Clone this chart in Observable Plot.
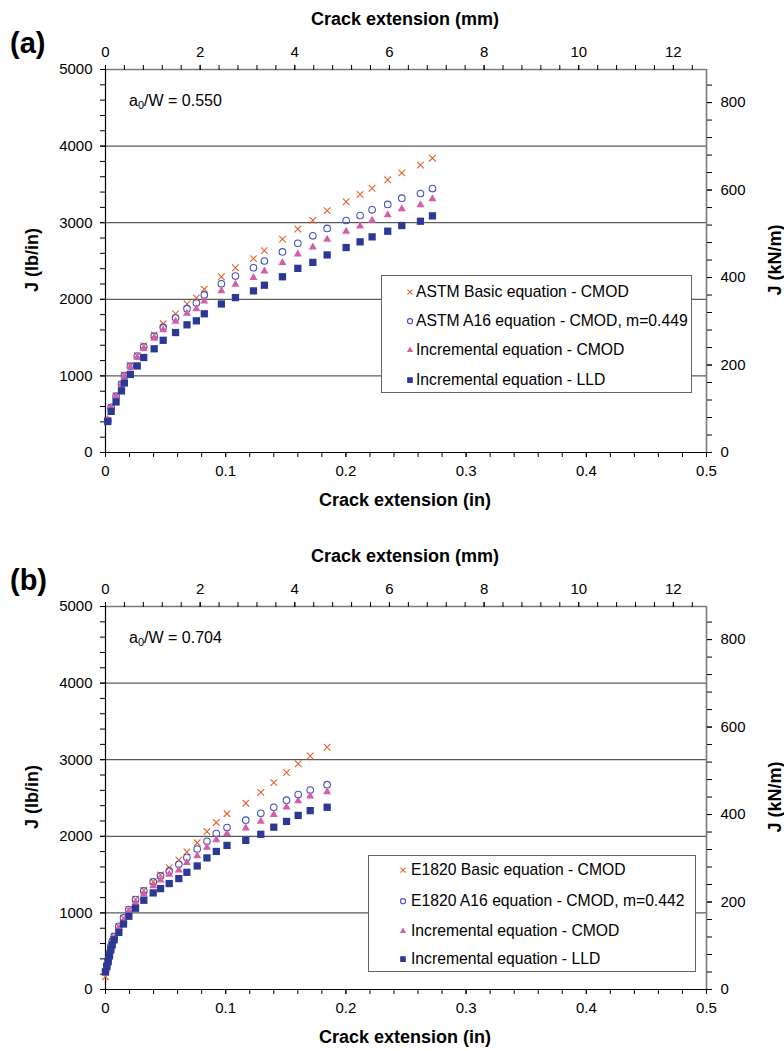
<!DOCTYPE html>
<html><head><meta charset="utf-8">
<script src="https://cdn.jsdelivr.net/npm/d3@7"></script>
<script src="https://cdn.jsdelivr.net/npm/@observablehq/plot@0.6"></script>
<style>
body{margin:0;background:#fff;font-family:"Liberation Sans",Arial,sans-serif;}
#wrap{position:relative;width:784px;height:1051px;overflow:hidden;background:#fff;}
.panel{position:absolute;left:0;width:784px;}
.panel svg{display:block;}
.lab{position:absolute;white-space:nowrap;color:#000;line-height:1;}
.ttl{font-weight:bold;font-size:18px;}
.big{font-weight:bold;font-size:29px;}
.ann{font-size:16px;}
.rot{transform:translate(-50%,-50%) rotate(-90deg);}
.legend{position:absolute;background:#fff;border:1px solid #666;box-sizing:border-box;}
.legrow{position:absolute;left:0;white-space:nowrap;font-size:15.7px;line-height:1;transform:translateY(-50%);}
.legrow svg{position:absolute;top:50%;}
</style></head><body><div id="wrap"></div><script>
// ---------- data ----------
// Panel (a), a0/W = 0.550 : crack extension (in) and J (lb/in)
const xA = [0.0019, 0.0047, 0.0088, 0.0133, 0.0157, 0.0207, 0.0264, 0.0318, 0.0405, 0.048, 0.0583, 0.0678, 0.0756, 0.0822, 0.0964, 0.1081, 0.1231, 0.1322, 0.1472, 0.16, 0.1725, 0.1844, 0.2002, 0.2118, 0.2218, 0.2348, 0.2465, 0.262, 0.272];
const basicA = [420, 590, 740, 895, 1010, 1135, 1265, 1395, 1535, 1680, 1811, 1939, 2018, 2132, 2294, 2412, 2531, 2636, 2785, 2917, 3031, 3158, 3273, 3368, 3450, 3560, 3651, 3751, 3842];
const a16A = [415, 588, 735, 890, 1005, 1127, 1259, 1380, 1518, 1636, 1759, 1877, 1952, 2057, 2202, 2303, 2412, 2500, 2618, 2732, 2829, 2925, 3029, 3094, 3168, 3238, 3320, 3381, 3446];
const incCmodA = [430, 585, 730, 885, 1000, 1118, 1241, 1355, 1490, 1600, 1711, 1816, 1873, 1974, 2110, 2193, 2281, 2368, 2478, 2588, 2680, 2781, 2885, 2954, 3029, 3103, 3181, 3233, 3312];
const incLldA = [405, 537, 660, 804, 908, 1020, 1130, 1240, 1354, 1465, 1566, 1667, 1719, 1811, 1939, 2022, 2110, 2184, 2294, 2404, 2482, 2579, 2676, 2750, 2815, 2889, 2963, 3019, 3089];

// Panel (b), a0/W = 0.704
const xB = [0, 0.0011, 0.0022, 0.0033, 0.0044, 0.0056, 0.0072, 0.0111, 0.015, 0.0194, 0.025, 0.0319, 0.0397, 0.0458, 0.053, 0.061, 0.0677, 0.0763, 0.0844, 0.0922, 0.1011, 0.1167, 0.1292, 0.14, 0.1506, 0.1603, 0.1703, 0.1844];
const basicB = [167, 310, 380, 470, 555, 620, 690, 820, 930, 1040, 1178, 1296, 1409, 1496, 1591, 1691, 1796, 1915, 2062, 2181, 2295, 2432, 2573, 2700, 2833, 2947, 3048, 3163];
const a16B = [241, 320, 386, 474, 561, 627, 693, 825, 934, 1044, 1175, 1287, 1404, 1483, 1548, 1635, 1722, 1833, 1934, 2035, 2115, 2211, 2300, 2379, 2471, 2546, 2604, 2674];
const incCmodB = [210, 311, 377, 461, 539, 605, 671, 803, 899, 1022, 1135, 1243, 1352, 1426, 1504, 1557, 1657, 1743, 1855, 1952, 2035, 2106, 2194, 2282, 2379, 2463, 2524, 2581];
const incLldB = [232, 298, 364, 439, 518, 583, 649, 746, 855, 956, 1061, 1165, 1261, 1317, 1383, 1448, 1530, 1613, 1718, 1802, 1881, 1947, 2026, 2119, 2194, 2273, 2335, 2379];

// legend labels
const legendA = ["ASTM Basic equation - CMOD", "ASTM A16 equation - CMOD, m=0.449", "Incremental equation - CMOD", "Incremental equation - LLD"];
const legendB = ["E1820 Basic equation - CMOD", "E1820 A16 equation - CMOD, m=0.442", "Incremental equation - CMOD", "Incremental equation - LLD"];

// tick labels
const inTicks = [0, 0.1, 0.2, 0.3, 0.4, 0.5];
const mmTicks = [0, 2, 4, 6, 8, 10, 12];
const lbTicks = [0, 1000, 2000, 3000, 4000, 5000];
const knTicks = [0, 200, 400, 600, 800];
const gridLb = [1000, 2000, 3000, 4000];

// ---------- styling ----------
const MM_PER_IN = 25.4;
const KN_PER_LB = 0.17512685; // 1 lb/in = 0.175127 kN/m
const styles = [
  {symbol: "times", stroke: "#E4622A", fill: "none", r: 3.1, strokeWidth: 1.1},
  {symbol: "circle", stroke: "#4652BE", fill: "none", r: 3.3, strokeWidth: 1.1},
  {symbol: "triangle", stroke: "none", fill: "#D45FA8", r: 3.0},
  {symbol: "square", stroke: "none", fill: "#2B3894", r: 4.1}
];

const wrap = document.getElementById("wrap");

function rows(xs, ys) { return xs.map((x, i) => ({x, y: ys[i]})); }

function panel({top, height, tag, ratio, xs, series, legend, leg}) {
  const div = document.createElement("div");
  div.className = "panel";
  div.style.top = top + "px";
  div.style.height = height + "px";
  wrap.appendChild(div);

  const minorIn = d3.range(0, 0.5001, 0.02);
  const minorMm = d3.range(0, 12.71, 0.4).map(m => m / MM_PER_IN);
  const minorLb = d3.range(0, 5001, 200);
  const minorKn = d3.range(0, 876, 40).map(k => k / KN_PER_LB);

  const marks = [
    Plot.ruleY(gridLb, {stroke: "#333", strokeWidth: 1}),
    Plot.ruleY([5000], {stroke: "#7a7a7a", strokeWidth: 1.6}),
    Plot.ruleX([0.5], {stroke: "#7a7a7a", strokeWidth: 1.6}),
    Plot.ruleX([0], {stroke: "#000", strokeWidth: 1.2}),
    Plot.ruleY([0], {stroke: "#000", strokeWidth: 1.2}),
    // bottom axis (in)
    Plot.axisX({anchor: "bottom", ticks: inTicks, tickSize: 5, tickPadding: 8, tickFormat: d => d3.format("~g")(d), label: null}),
    Plot.axisX({anchor: "bottom", ticks: minorIn, tickSize: 5, fill: "none", label: null}),
    // top axis (mm)
    Plot.axisX({anchor: "top", ticks: mmTicks.map(m => m / MM_PER_IN), tickSize: 5, tickPadding: 8, tickFormat: d => String(Math.round(d * MM_PER_IN)), label: null}),
    Plot.axisX({anchor: "top", ticks: minorMm, tickSize: 5, fill: "none", label: null}),
    // left axis (lb/in)
    Plot.axisY({anchor: "left", ticks: lbTicks, tickSize: 5, tickPadding: 8, tickFormat: d => String(d), label: null}),
    Plot.axisY({anchor: "left", ticks: minorLb, tickSize: 5, fill: "none", label: null}),
    // right axis (kN/m)
    Plot.axisY({anchor: "right", ticks: knTicks.map(k => k / KN_PER_LB), tickSize: 5, tickPadding: 9, tickFormat: d => String(Math.round(d * KN_PER_LB)), label: null}),
    Plot.axisY({anchor: "right", ticks: minorKn, tickSize: 5, fill: "none", label: null}),
  ];
  series.forEach((ys, i) => {
    const s = styles[i];
    marks.push(Plot.dot(rows(xs, ys), {x: "x", y: "y", symbol: s.symbol, r: s.r, stroke: s.stroke, fill: s.fill, strokeWidth: s.strokeWidth || 1}));
  });

  const chart = Plot.plot({
    width: 784, height,
    marginTop: 69, marginLeft: 105, marginRight: 78, marginBottom: height - 452,
    x: {type: "linear", domain: [0, 0.5]},
    y: {type: "linear", domain: [0, 5000]},
    style: {fontFamily: '"Liberation Sans", Arial, sans-serif', fontSize: "15px", color: "#000", background: "#fff", overflow: "visible"},
    marks
  });
  div.appendChild(chart);

  const add = (cls, html, css) => {
    const el = document.createElement("div");
    el.className = "lab " + cls;
    el.innerHTML = html;
    Object.assign(el.style, css);
    div.appendChild(el);
    return el;
  };
  add("big", tag, {left: "10px", top: "29px"});
  add("ttl", "Crack extension (mm)", {left: "405px", top: "10px", transform: "translateX(-50%)"});
  add("ttl", "Crack extension (in)", {left: "405px", top: "491px", transform: "translateX(-50%)"});
  add("ttl rot", "J (lb/in)", {left: "32px", top: "260px"});
  add("ttl rot", "J (kN/m)", {left: "775px", top: "260px"});
  add("ann", "a<sub style=\"font-size:11px;vertical-align:-3px\">0</sub>/W = " + ratio, {left: "129px", top: "93px"});

  // legend
  const box = document.createElement("div");
  box.className = "legend";
  Object.assign(box.style, {left: leg.left + "px", top: leg.top + "px", width: leg.w + "px", height: leg.h + "px"});
  div.appendChild(box);
  legend.forEach((txt, i) => {
    const row = document.createElement("div");
    row.className = "legrow";
    row.style.top = leg.rows[i] + "px";
    row.style.left = leg.textX + "px";
    row.textContent = txt;
    const s = styles[i];
    const sz = 10;
    const symType = {times: d3.symbolTimes, circle: d3.symbolCircle, triangle: d3.symbolTriangle, square: d3.symbolSquare}[s.symbol];
    const svg = d3.create("svg").attr("width", sz).attr("height", sz)
      .style("left", (leg.iconX - leg.textX - sz / 2) + "px").style("margin-top", (-sz / 2) + "px");
    svg.append("path")
      .attr("transform", `translate(${sz / 2},${sz / 2})`)
      .attr("d", d3.symbol(symType, Math.PI * s.r * s.r * 0.6)())
      .attr("fill", s.fill).attr("stroke", s.stroke).attr("stroke-width", s.strokeWidth || 1);
    row.appendChild(svg.node());
    box.appendChild(row);
  });
}

panel({top: 0, height: 537, tag: "(a)", ratio: "0.550", xs: xA,
  series: [basicA, a16A, incCmodA, incLldA], legend: legendA,
  leg: {left: 381, top: 275, w: 311, h: 118, rows: [15.7, 45, 74.3, 103.7], iconX: 28, textX: 34}});
panel({top: 537, height: 514, tag: "(b)", ratio: "0.704", xs: xB,
  series: [basicB, a16B, incCmodB, incLldB], legend: legendB,
  leg: {left: 368, top: 318, w: 328, h: 117, rows: [14.3, 45, 75, 103.3], iconX: 34, textX: 42}});
</script></body></html>
